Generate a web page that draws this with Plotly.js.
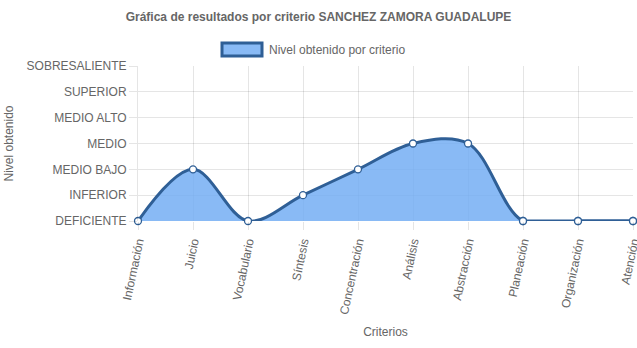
<!DOCTYPE html>
<html>
<head>
<meta charset="utf-8">
<script src="https://cdn.plot.ly/plotly-3.0.1.min.js"></script>
<style>html,body{margin:0;padding:0;background:#fff;}#chart{width:637px;height:348px;}</style>
</head>
<body>
<div id="chart"></div>
<script>
const criterios = ["Información","Juicio","Vocabulario","Síntesis","Concentración","Análisis","Abstracción","Planeación","Organización","Atención"];
const niveles = [0, 2, 0, 1, 2, 3, 3, 0, 0, 0];
const nivelVals = [0, 1, 2, 3, 4, 5, 6];
const nivelLabels = ["DEFICIENTE","INFERIOR","MEDIO BAJO","MEDIO","MEDIO ALTO","SUPERIOR","SOBRESALIENTE"];
const serieNombre = "Nivel obtenido por criterio";
const titulo = "Gráfica de resultados por criterio SANCHEZ ZAMORA GUADALUPE";

const font = {family: "Liberation Sans, Arial, sans-serif", size: 12, color: "#666"};
const grid = "rgba(0,0,0,0.1)";
const lineColor = "#2f5f96";
const fillColor = "rgba(116,174,243,0.85)";

// trailing run of values at the minimum (drawn flat, like the reference)
let tailStart = niveles.length - 1;
while (tailStart > 0 && niveles[tailStart - 1] === 0) tailStart--;

const mainTrace = {
  x: criterios,
  y: niveles,
  type: "scatter",
  mode: "lines+markers",
  name: serieNombre,
  line: {shape: "spline", smoothing: 1, color: lineColor, width: 3},
  marker: {size: 7, color: "#fff", line: {color: lineColor, width: 1.3}},
  fill: "tozeroy",
  fillcolor: fillColor,
  cliponaxis: false,
  showlegend: false
};

const tailTrace = {
  x: criterios.slice(tailStart),
  y: niveles.slice(tailStart),
  type: "scatter",
  mode: "lines+markers",
  line: {shape: "linear", color: lineColor, width: 3},
  marker: {size: 7, color: "#fff", line: {color: lineColor, width: 1.3}},
  cliponaxis: false,
  showlegend: false,
  hoverinfo: "skip"
};

const layout = {
  width: 637, height: 348,
  margin: {l: 138, r: 4, t: 66, b: 127},
  paper_bgcolor: "#fff", plot_bgcolor: "#fff",
  font: font,
  title: {text: "<b>" + titulo + "</b>", font: {family: font.family, size: 12, color: "#666"}, x: 0.5, xref: "container", y: 1 - 17/348, yref: "container", yanchor: "middle"},
  xaxis: {
    type: "category",
    range: [0, criterios.length - 1],
    showgrid: true, gridcolor: grid, gridwidth: 1,
    ticks: "outside", ticklen: 8, tickcolor: grid,
    tickangle: -78,
    showline: false, zeroline: false,
    tickfont: font,
    title: {text: "Criterios", font: font, standoff: 12}
  },
  yaxis: {
    range: [0, 6],
    tickvals: nivelVals, ticktext: nivelLabels,
    showgrid: true, gridcolor: grid, gridwidth: 1,
    ticks: "outside", ticklen: 8, tickcolor: grid,
    showline: true, linecolor: grid,
    zeroline: false,
    tickfont: font,
    title: {text: "Nivel obtenido", font: font, standoff: 10}
  },
  shapes: [
    {type: "rect", xref: "paper", yref: "paper",
     x0: (222 - 138) / 495, x1: (262 - 138) / 495,
     y0: (221 - 56) / 155, y1: (221 - 43) / 155,
     fillcolor: fillColor, line: {color: lineColor, width: 3}}
  ],
  annotations: [
    {text: serieNombre, xref: "paper", yref: "paper",
     x: (267 - 138) / 495, y: (221 - 49.5) / 155,
     xanchor: "left", yanchor: "middle", showarrow: false, font: font}
  ]
};

Plotly.newPlot("chart", [mainTrace, tailTrace], layout, {displayModeBar: false, staticPlot: true});
</script>
</body>
</html>
